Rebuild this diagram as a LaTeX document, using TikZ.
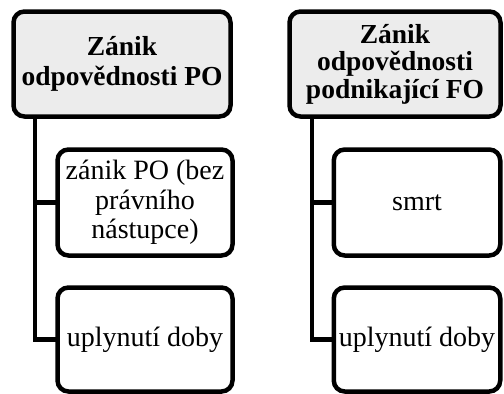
\documentclass[tikz,border=0pt]{standalone}
\usepackage{fontspec}
\setmainfont{Liberation Serif}

\begin{document}
\begin{tikzpicture}[x=1pt,y=-1pt,
  box/.style={draw=black, line width=4.5pt, rounded corners=11pt, inner sep=0pt, outer sep=0pt, align=center},
  hdr/.style={box, fill=gray!15, font=\fontsize{27.5}{30}\selectfont\bfseries},
  item/.style={box, fill=white, font=\fontsize{28}{29.5}\selectfont},
  link/.style={line width=4.5pt}]
\useasboundingbox (0,0) rectangle (504,394);
\clip (0,0) rectangle (504,394);

% left column
\node[hdr, minimum width=217pt, minimum height=105pt] (hdL) at (122,64) {Zánik\\odpovědnosti PO};
\node[item, minimum width=175pt, minimum height=106pt] (itL1) at (145,202.5) {zánik PO (bez\\právního\\nástupce)};
\node[item, minimum width=175pt, minimum height=104pt] (itL2) at (145,339.5) {uplynutí doby};
\coordinate (spL) at (35,116.5);
\draw[link] (spL) |- (itL1.west);
\draw[link] (spL) |- (itL2.west);

% right column
\node[hdr, minimum width=211pt, minimum height=105pt, font=\fontsize{27.5}{27.5}\selectfont\bfseries] (hdR) at (395,64) {Zánik\\odpovědnosti\\podnikající FO};
\node[item, minimum width=166.5pt, minimum height=106pt] (itR1) at (417,202.5) {smrt};
\node[item, minimum width=166.5pt, minimum height=104pt] (itR2) at (417,339.5) {uplynutí doby};
\coordinate (spR) at (312,116.5);
\draw[link] (spR) |- (itR1.west);
\draw[link] (spR) |- (itR2.west);
\end{tikzpicture}
\end{document}
